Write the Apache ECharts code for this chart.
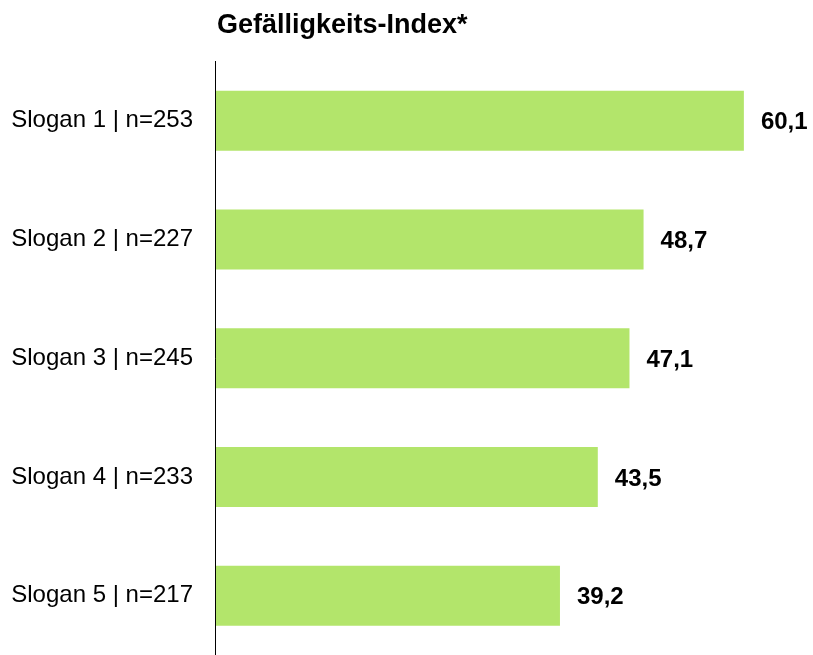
<!DOCTYPE html>
<html>
<head>
<meta charset="utf-8">
<script src="https://cdn.jsdelivr.net/npm/echarts@6/dist/echarts.min.js"></script>
<style>html,body{margin:0;padding:0;background:#fff}#c{width:813px;height:655px}</style>
</head>
<body>
<div id="c"></div>
<script>
var categories = ['Slogan 1 | n=253', 'Slogan 2 | n=227', 'Slogan 3 | n=245', 'Slogan 4 | n=233', 'Slogan 5 | n=217'];
var values = [60.1, 48.7, 47.1, 43.5, 39.2];
var titleText = 'Gefälligkeits-Index*';

var chart = echarts.init(document.getElementById('c'), null, {renderer: 'canvas'});
chart.setOption({
  animation: false,
  backgroundColor: '#ffffff',
  title: {
    text: titleText,
    left: 212, top: 7,
    textStyle: {fontFamily: 'Liberation Sans', fontSize: 27, fontWeight: 'bold', color: '#000'}
  },
  grid: {left: 215, top: 61.4, width: 572, height: 596.3, containLabel: false},
  xAxis: {
    type: 'value', min: 0, max: 65, show: false
  },
  yAxis: {
    type: 'category', data: categories, inverse: true, z: 5,
    axisLine: {show: true, lineStyle: {color: '#000', width: 1}},
    axisTick: {show: false},
    axisLabel: {fontFamily: 'Liberation Sans', fontSize: 24, color: '#000', margin: 22, padding: [4, 0, 0, 0]}
  },
  series: [{
    type: 'bar', data: values, barWidth: 60,
    itemStyle: {color: '#b3e56b'},
    label: {
      show: true, position: 'right', distance: 17, offset: [0, 2],
      fontFamily: 'Liberation Sans', fontSize: 24, fontWeight: 'bold', color: '#000',
      formatter: function (p) { return p.value.toFixed(1).replace('.', ','); }
    }
  }]
});
</script>
</body>
</html>
